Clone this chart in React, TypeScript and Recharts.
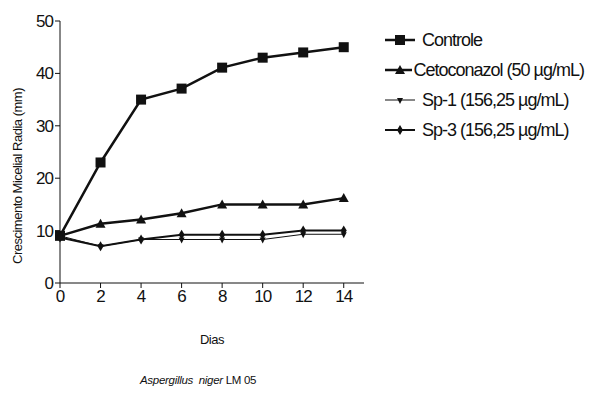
import React from "react";
import { Label, Legend, Line, LineChart, XAxis, YAxis } from "recharts";

const dias = [0, 2, 4, 6, 8, 10, 12, 14];
const controle = [9, 23, 35, 37.1, 41.1, 43, 44, 45];
const cetoconazol = [9, 11.3, 12.1, 13.3, 15, 15, 15, 16.2];
const sp1 = [9, 7, 8.3, 8.3, 8.3, 8.3, 9.3, 9.3];
const sp3 = [8.7, 7, 8.3, 9.2, 9.2, 9.2, 10, 10];
const yTicks = [0, 10, 20, 30, 40, 50];

const data = dias.map((d, i) => ({
  dia: d,
  controle: controle[i],
  ceto: cetoconazol[i],
  sp1: sp1[i],
  sp3: sp3[i],
}));

const INK = "#111";
const FONT = "'Liberation Sans', Arial, sans-serif";

type Shape = "square" | "triangle" | "down" | "diamond";

function Marker({ cx, cy, shape }: { cx: number; cy: number; shape: Shape }) {
  if (cx == null || cy == null) return null;
  if (shape === "square")
    return <rect x={cx - 5} y={cy - 5} width={10} height={10} fill={INK} />;
  if (shape === "triangle")
    return (
      <polygon
        points={`${cx},${cy - 5} ${cx - 5},${cy + 4} ${cx + 5},${cy + 4}`}
        fill={INK}
      />
    );
  if (shape === "down")
    return (
      <polygon
        points={`${cx - 3},${cy - 2} ${cx + 3},${cy - 2} ${cx},${cy + 4}`}
        fill={INK}
      />
    );
  return (
    <polygon
      points={`${cx},${cy - 5} ${cx + 3},${cy} ${cx},${cy + 5} ${cx - 3},${cy}`}
      fill={INK}
    />
  );
}

const series = [
  { key: "controle", name: "Controle", shape: "square" as Shape, width: 2.5 },
  { key: "ceto", name: "Cetoconazol (50 \u00b5g/mL)", shape: "triangle" as Shape, width: 2.5 },
  { key: "sp1", name: "Sp-1 (156,25 \u00b5g/mL)", shape: "down" as Shape, width: 1 },
  { key: "sp3", name: "Sp-3 (156,25 \u00b5g/mL)", shape: "diamond" as Shape, width: 2 },
];

function LegendBox() {
  return (
    <div
      style={{
        fontFamily: FONT,
        fontSize: 18,
        letterSpacing: -1,
        color: INK,
        whiteSpace: "nowrap",
      }}
    >
      {series.map((s) => (
        <div key={s.key} style={{ display: "flex", alignItems: "center", height: 30 }}>
          <svg width={36} height={14} style={{ marginLeft: 20, marginRight: 2 }}>
            <line x1={1} x2={31} y1={7} y2={7} stroke={INK} strokeWidth={s.width} />
            <Marker cx={16} cy={7} shape={s.shape} />
          </svg>
          <span>{s.name}</span>
        </div>
      ))}
    </div>
  );
}

function YLabel({ viewBox }: any) {
  const cy = viewBox.y + viewBox.height / 2 + 24;
  return (
    <text
      x={14}
      y={cy}
      transform={`rotate(-90 14 ${cy})`}
      textAnchor="middle"
      fill={INK}
      fontSize={13}
      fontFamily={FONT}
      letterSpacing={-0.5}
    >
      Crescimento Micelial Radia (mm)
    </text>
  );
}

export default function App() {
  return (
    <div style={{ position: "relative", width: 590, height: 390 }}>
      <LineChart
        width={590}
        height={390}
        data={data}
        margin={{ top: 13, right: 14, bottom: 85, left: 0 }}
      >
        <XAxis
          dataKey="dia"
          type="number"
          domain={[0, 15]}
          ticks={dias}
          stroke={INK}
          tickLine={{ stroke: INK }}
          tickSize={5}
          height={30}
          tick={{ fill: INK, fontSize: 17, fontFamily: FONT, letterSpacing: -1 }}
        >
          <Label
            value="Dias"
            position="insideBottom"
            offset={-31}
            style={{ fill: INK, fontSize: 13, fontFamily: FONT, letterSpacing: -0.5 }}
          />
        </XAxis>
        <YAxis
          domain={[0, 50]}
          ticks={yTicks}
          stroke={INK}
          tickSize={5}
          width={52}
          tick={{ fill: INK, fontSize: 17, fontFamily: FONT, letterSpacing: -1 }}
        >
          <Label content={YLabel} />
        </YAxis>
        <Legend
          layout="vertical"
          align="right"
          verticalAlign="top"
          width={220}
          wrapperStyle={{ top: 17 }}
          content={() => <LegendBox />}
        />
        {series.map((s) => (
          <Line
            key={s.key}
            dataKey={s.key}
            name={s.name}
            stroke={INK}
            strokeWidth={s.width}
            isAnimationActive={false}
            dot={(p: any) => <Marker key={p.index} cx={p.cx} cy={p.cy} shape={s.shape} />}
          />
        ))}
      </LineChart>
      <div
        style={{
          position: "absolute",
          left: 132,
          top: 366,
          fontFamily: FONT,
          fontSize: 11.5,
          color: INK,
          letterSpacing: -0.3,
        }}
      >
        <i>Aspergillus&nbsp;&nbsp;niger</i> LM 05
      </div>
    </div>
  );
}
